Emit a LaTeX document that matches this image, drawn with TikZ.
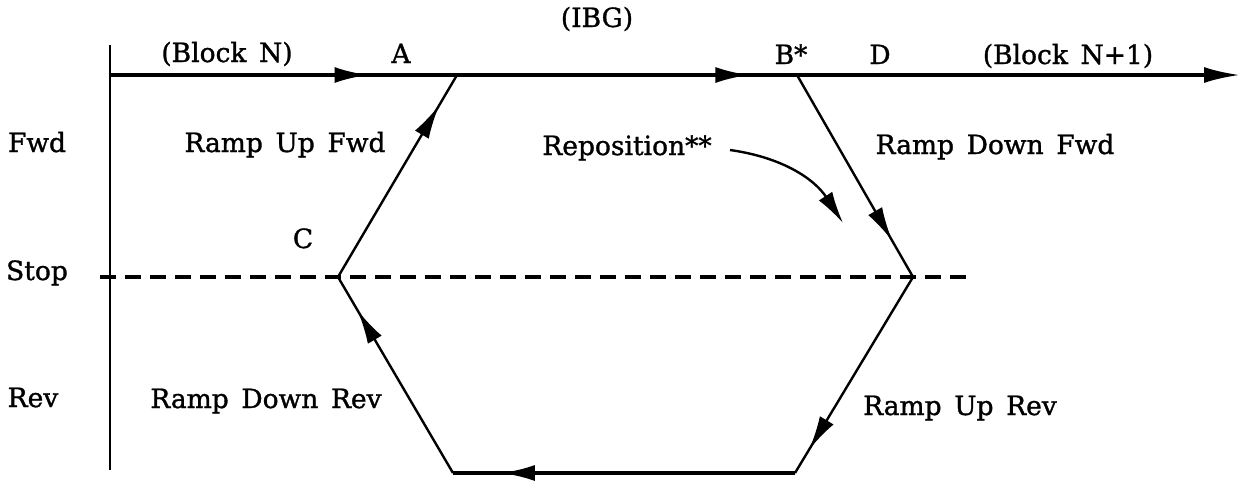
\documentclass[tikz,border=0pt]{standalone}
\usepackage{fontspec}
\setmainfont{DejaVu Serif}[WordSpace=1.5,FakeBold=1.2]
\usetikzlibrary{arrows.meta,decorations.markings}
\tikzset{
  lbl/.style={anchor=base,inner sep=0pt,font=\fontsize{26.5}{30}\selectfont},
  lblw/.style={lbl,anchor=base west},
  tipa/.style={-{Latex[length=36pt,width=16pt]}},
  midarrow/.style={postaction={decorate},decoration={markings,
     mark=at position #1 with {\arrow{Latex[length=34pt,width=16pt]}}}},
  timeline/.style={line width=3.5pt},
  ramp/.style={line width=2.4pt},
  stopline/.style={line width=3.2pt,dash pattern=on 16pt off 9pt},
  axisline/.style={line width=2.2pt}
}
\begin{document}
\begin{tikzpicture}[x=1pt,y=-1pt]
\useasboundingbox (0,0) rectangle (1260,480);
% key points
\coordinate (O)  at (110,75);
\coordinate (TL) at (457,75);
\coordinate (TR) at (797,75);
\coordinate (E)  at (1240,75);
\coordinate (C)  at (338,277);
\coordinate (R)  at (913,277);
\coordinate (BL) at (453,473);
\coordinate (BR) at (795,473);
\coordinate (AxT) at (110,45);
\coordinate (AxB) at (110,470);
\coordinate (DL) at (100,277);
\coordinate (DR) at (968,277);
\coordinate (rp1) at (730,150);
\coordinate (rp2) at (843,223);
% axis and stop line
\draw[axisline] (AxT) -- (AxB);
\draw[stopline] (DL) -- (DR);
% timeline
\draw[timeline,midarrow=0.745] (O) -- (TL);
\draw[timeline,midarrow=0.86] (TL) -- (TR);
\draw[timeline,tipa] (TR) -- (E);
% hexagon
\draw[ramp,midarrow=0.85] (C) -- (TL);
\draw[ramp,midarrow=0.82] (TR) -- (R);
\draw[ramp,midarrow=0.88] (R) -- (BR);
\draw[timeline,midarrow=0.86] (BR) -- (BL);
\draw[ramp,midarrow=0.83] (BL) -- (C);
% reposition curve
\draw[ramp,-{Latex[length=32pt,width=16pt]}] (rp1) to[out=-8,in=123] (rp2);
% labels
\node[lbl] (bn) at (227,62) {(Block N)};
\node[lbl] (la) at (401,63) {A};
\node[lbl] (ibg) at (597,27) {(IBG)};
\node[lbl] (lb) at (791,64) {B*};
\node[lbl] (ld) at (880,64) {D};
\node[lbl] (bn1) at (1068,64) {(Block N+1)};
\node[lbl] (fwd) at (37,152) {Fwd};
\node[lbl] (ruf) at (285,152) {Ramp Up Fwd};
\node[lbl] (rep) at (627,155) {Reposition**};
\node[lbl] (rdf) at (995,154) {Ramp Down Fwd};
\node[lbl] (lc) at (303,248) {C};
\node[lbl] (stop) at (37,280) {Stop};
\node[lbl] (rev) at (33,407) {Rev};
\node[lbl] (rdr) at (266,408) {Ramp Down Rev};
\node[lblw] (rur) at (863,415) {Ramp Up Rev};
\end{tikzpicture}
\end{document}
